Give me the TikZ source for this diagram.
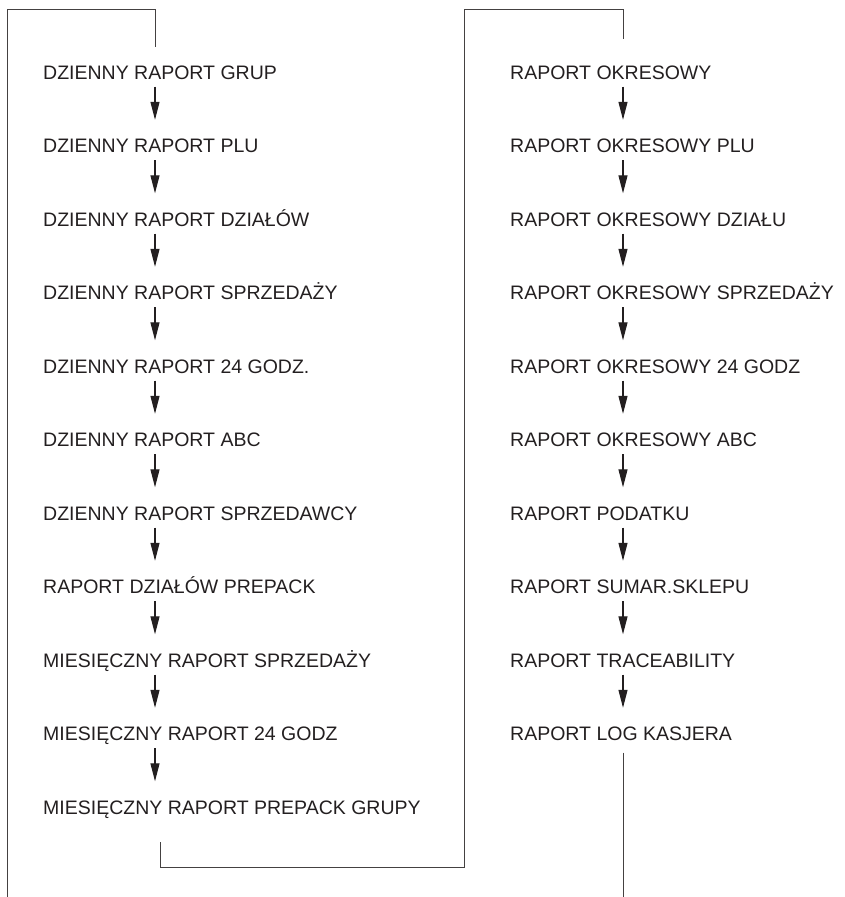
\documentclass[tikz,border=0pt]{standalone}
\usepackage{fontspec}
\setmainfont{Liberation Sans}
\usetikzlibrary{arrows.meta}
\definecolor{ink}{RGB}{35,31,32}
\tikzset{
  report/.style={anchor=west, inner sep=0pt, text height=14pt, text depth=0pt,
    text=ink, font=\fontsize{19.5}{23}\selectfont},
  flow/.style={-{Triangle[length=18pt,width=9pt]}, line width=1.2pt, draw=ink,
    shorten <=7.5pt, shorten >=18.5pt},
  frame/.style={line width=1pt, draw=ink!85}
}
\begin{document}
\begin{tikzpicture}[x=1pt, y=-1pt]
        \useasboundingbox (0,0) rectangle (845,897);

        % Daily reports
        \node[report] (dgrup)       at (43,72)    {DZIENNY RAPORT GRUP};
        \node[report] (dplu)        at (43,145.5) {DZIENNY RAPORT PLU};
        \node[report] (ddzialow)    at (43,219)   {DZIENNY RAPORT DZIAŁÓW};
        \node[report] (dsprzedazy)  at (43,292.5) {DZIENNY RAPORT SPRZEDAŻY};
        \node[report] (dgodz)       at (43,366)   {DZIENNY RAPORT 24 GODZ.};
        \node[report] (dabc)        at (43,439.5) {DZIENNY RAPORT ABC};
        \node[report] (dsprzedawcy) at (43,513)   {DZIENNY RAPORT SPRZEDAWCY};
        \node[report] (prepack)     at (43,586.5) {RAPORT DZIAŁÓW PREPACK};
        \node[report] (msprzedazy)  at (43,660)   {MIESIĘCZNY RAPORT SPRZEDAŻY};
        \node[report] (mgodz)       at (43,733.5) {MIESIĘCZNY RAPORT 24 GODZ};
        \node[report] (mprepack)    at (43,807)   {MIESIĘCZNY RAPORT PREPACK GRUPY};

        % Periodic reports
        \node[report] (okres)       at (510,72)    {RAPORT OKRESOWY};
        \node[report] (oplu)        at (510,145.5) {RAPORT OKRESOWY PLU};
        \node[report] (odzialu)     at (510,219)   {RAPORT OKRESOWY DZIAŁU};
        \node[report] (osprzedazy)  at (510,292.5) {RAPORT OKRESOWY SPRZEDAŻY};
        \node[report] (ogodz)       at (510,366)   {RAPORT OKRESOWY 24 GODZ};
        \node[report] (oabc)        at (510,439.5) {RAPORT OKRESOWY ABC};
        \node[report] (podatku)     at (510,513)   {RAPORT PODATKU};
        \node[report] (sumar)       at (510,586.5) {RAPORT SUMAR.SKLEPU};
        \node[report] (trace)       at (510,660)   {RAPORT TRACEABILITY};
        \node[report] (logkas)      at (510,733.5) {RAPORT LOG KASJERA};

        % Arrow columns
        \coordinate (la) at (155,0);
        \coordinate (ra) at (623,0);

        \draw[flow] (dgrup.south -| la) -- (dplu.north -| la);
        \draw[flow] (dplu.south -| la) -- (ddzialow.north -| la);
        \draw[flow] (ddzialow.south -| la) -- (dsprzedazy.north -| la);
        \draw[flow] (dsprzedazy.south -| la) -- (dgodz.north -| la);
        \draw[flow] (dgodz.south -| la) -- (dabc.north -| la);
        \draw[flow] (dabc.south -| la) -- (dsprzedawcy.north -| la);
        \draw[flow] (dsprzedawcy.south -| la) -- (prepack.north -| la);
        \draw[flow] (prepack.south -| la) -- (msprzedazy.north -| la);
        \draw[flow] (msprzedazy.south -| la) -- (mgodz.north -| la);
        \draw[flow] (mgodz.south -| la) -- (mprepack.north -| la);

        \draw[flow] (okres.south -| ra) -- (oplu.north -| ra);
        \draw[flow] (oplu.south -| ra) -- (odzialu.north -| ra);
        \draw[flow] (odzialu.south -| ra) -- (osprzedazy.north -| ra);
        \draw[flow] (osprzedazy.south -| ra) -- (ogodz.north -| ra);
        \draw[flow] (ogodz.south -| ra) -- (oabc.north -| ra);
        \draw[flow] (oabc.south -| ra) -- (podatku.north -| ra);
        \draw[flow] (podatku.south -| ra) -- (sumar.north -| ra);
        \draw[flow] (sumar.south -| ra) -- (trace.north -| ra);
        \draw[flow] (trace.south -| ra) -- (logkas.north -| ra);

        % Entry line
        \coordinate (entry) at (7.5,897);
        \coordinate (topL) at (155,9.5);
        \draw[frame, shorten >=18pt] (entry) |- (topL) -- (dgrup.north -| la);

        % Link between the columns
        \coordinate (bx) at (160,0);
        \coordinate (turnB) at (464,867);
        \coordinate (topR) at (623,9.5);
        \draw[frame, shorten <=28pt, shorten >=26pt]
            (mprepack.south -| bx) |- (turnB) |- (topR) -- (okres.north -| ra);

        % Exit line
        \coordinate (exit) at (623,897);
        \draw[frame, shorten <=12pt] (logkas.south -| ra) -- (exit);
\end{tikzpicture}
\end{document}
